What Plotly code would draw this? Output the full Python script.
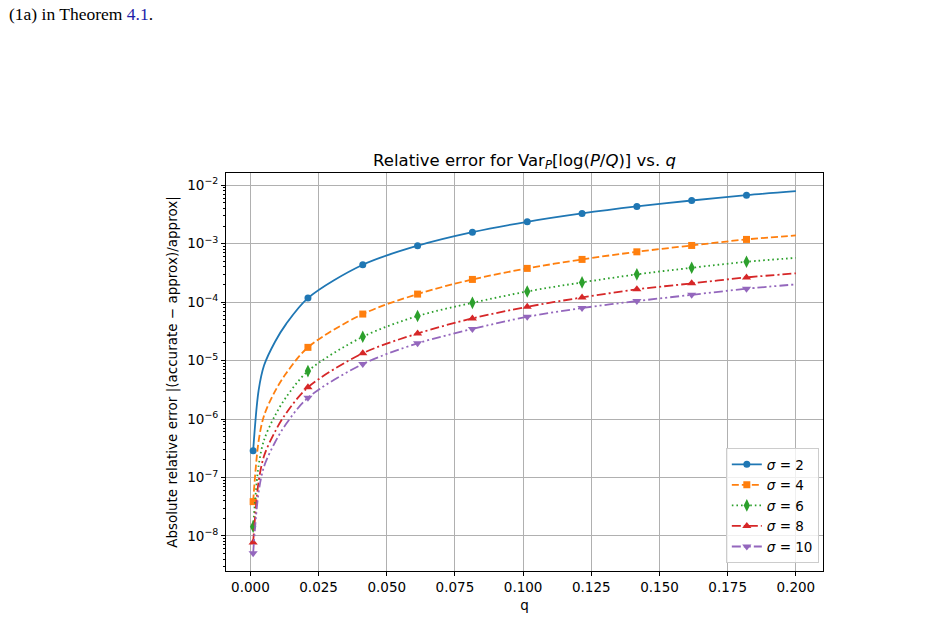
import plotly.graph_objects as go

# q positions (line points) and which of them carry markers
Q = [0.001, 0.00301, 0.00502, 0.00904, 0.01306, 0.0211, 0.0412, 0.0613,
     0.0814, 0.1015, 0.1216, 0.1417, 0.1618, 0.1819, 0.2]
MARK_IDX = [0, 5, 6, 7, 8, 9, 10, 11, 12, 13]

sigma2 = [2.85e-7, 3.1e-6, 8.3e-6, 2.1e-5, 4.2e-5, 1.17e-4, 4.35e-4, 9.2e-4,
          1.57e-3, 2.36e-3, 3.28e-3, 4.32e-3, 5.47e-3, 6.75e-3, 7.9e-3]
sigma4 = [3.86e-8, 4.2e-7, 1.15e-6, 3.0e-6, 6.0e-6, 1.68e-5, 6.24e-5, 1.37e-4,
          2.44e-4, 3.77e-4, 5.37e-4, 7.24e-4, 9.3e-4, 1.18e-3, 1.38e-3]
sigma6 = [1.44e-8, 1.6e-7, 4.4e-7, 1.15e-6, 2.35e-6, 6.6e-6, 2.55e-5, 5.77e-5,
          9.7e-5, 1.52e-4, 2.17e-4, 2.98e-4, 3.86e-4, 4.89e-4, 5.7e-4]
sigma8 = [7.7e-9, 8.5e-8, 2.35e-7, 6.1e-7, 1.25e-6, 3.48e-6, 1.33e-5, 2.9e-5,
          5.26e-5, 8.3e-5, 1.2e-4, 1.65e-4, 2.09e-4, 2.64e-4, 3.1e-4]
sigma10 = [5.06e-9, 5.6e-8, 1.55e-7, 4.0e-7, 8.2e-7, 2.31e-6, 8.7e-6, 1.97e-5,
           3.47e-5, 5.6e-5, 7.9e-5, 1.04e-4, 1.33e-4, 1.69e-4, 2.01e-4]

series_names = ["<i>σ</i> = 2", "<i>σ</i> = 4", "<i>σ</i> = 6", "<i>σ</i> = 8", "<i>σ</i> = 10"]
series_vals = [sigma2, sigma4, sigma6, sigma8, sigma10]
colors = ["#1f77b4", "#ff7f0e", "#2ca02c", "#d62728", "#9467bd"]
dashes = ["solid", "7px,3px", "1.6px,3px", "9px,3px,2px,3px", "9px,3px,2px,3px,2px,3px"]
symbols = ["circle", "square", "diamond-tall", "triangle-up", "triangle-down"]
msizes = [7, 7, 9, 8, 8]

x_ticks = [0.0, 0.025, 0.05, 0.075, 0.1, 0.125, 0.15, 0.175, 0.2]
x_ticktext = ["0.000", "0.025", "0.050", "0.075", "0.100", "0.125", "0.150", "0.175", "0.200"]
y_ticks = [1e-8, 1e-7, 1e-6, 1e-5, 1e-4, 1e-3, 1e-2]
y_ticktext = ["10<sup>−8</sup>", "10<sup>−7</sup>", "10<sup>−6</sup>", "10<sup>−5</sup>",
              "10<sup>−4</sup>", "10<sup>−3</sup>", "10<sup>−2</sup>"]
y_minor = [m * 10.0 ** e for e in range(-9, -1) for m in range(2, 10)]

FONT = "DejaVu Sans"
fig = go.Figure()
for name, vals, c, d, s, ms in zip(series_names, series_vals, colors, dashes, symbols, msizes):
    fig.add_trace(go.Scatter(
        x=Q, y=vals, mode="lines", line=dict(color=c, width=1.8, dash=d, shape="spline", smoothing=0.9),
        legendgroup=name, showlegend=False, hoverinfo="skip"))
    fig.add_trace(go.Scatter(
        x=[Q[i] for i in MARK_IDX], y=[vals[i] for i in MARK_IDX], mode="markers",
        marker=dict(color=c, symbol=s, size=ms, line=dict(width=0)),
        legendgroup=name, showlegend=False))
    fig.add_trace(go.Scatter(
        x=[None], y=[None], mode="lines+markers", name=name,
        line=dict(color=c, width=1.8, dash=d),
        marker=dict(color=c, symbol=s, size=ms, line=dict(width=0)),
        legendgroup=name))

fig.update_layout(
    width=933, height=641,
    margin=dict(l=226, r=110, t=173, b=70),
    paper_bgcolor="white", plot_bgcolor="white",
    font=dict(family=FONT, size=13.5, color="black"),
    title=dict(text="Relative error for Var<sub><i>P</i></sub>[log(<i>P</i>/<i>Q</i>)] vs. <i>q</i>",
               x=0.5, xref="paper", xanchor="center", y=1, yref="paper", yanchor="bottom",
               pad=dict(b=7), font=dict(family=FONT, size=16.5, color="black")),
    showlegend=True,
    legend=dict(x=0.993, y=0.02, xanchor="right", yanchor="bottom",
                bgcolor="rgba(255,255,255,0.8)", bordercolor="#cccccc", borderwidth=1,
                font=dict(family=FONT, size=13.5), tracegroupgap=0, itemwidth=30),
    annotations=[dict(text='(1a) in Theorem <span style="color:#1c1ca8">4.1</span>.',
                      xref="paper", yref="paper", x=(7 - 226) / 597, y=(571 - 14) / 398,
                      xanchor="left", yanchor="middle", showarrow=False,
                      font=dict(family="Liberation Serif", size=17.5, color="black"))],
)
fig.update_xaxes(
    range=[-0.00895, 0.20995], tickvals=x_ticks, ticktext=x_ticktext,
    showgrid=True, gridcolor="#b0b0b0", gridwidth=0.8, zeroline=False,
    showline=True, mirror=True, linecolor="black", linewidth=1,
    ticks="outside", ticklen=4, tickwidth=1, tickcolor="black",
    tickfont=dict(family=FONT, size=13.5),
    title=dict(text="q", font=dict(family=FONT, size=13.5), standoff=6))
fig.update_yaxes(
    type="log", range=[-8.6, -1.792], tickvals=y_ticks, ticktext=y_ticktext,
    showgrid=True, gridcolor="#b0b0b0", gridwidth=0.8, zeroline=False,
    showline=True, mirror=True, linecolor="black", linewidth=1,
    ticks="outside", ticklen=4, tickwidth=1, tickcolor="black",
    tickfont=dict(family=FONT, size=13.5),
    minor=dict(tickvals=y_minor, ticks="outside", ticklen=2, tickwidth=0.6,
               tickcolor="black", showgrid=False),
    title=dict(text="Absolute relative error |(accurate − approx)/approx|",
               font=dict(family=FONT, size=13.5), standoff=6))

fig.write_html("out.html")
